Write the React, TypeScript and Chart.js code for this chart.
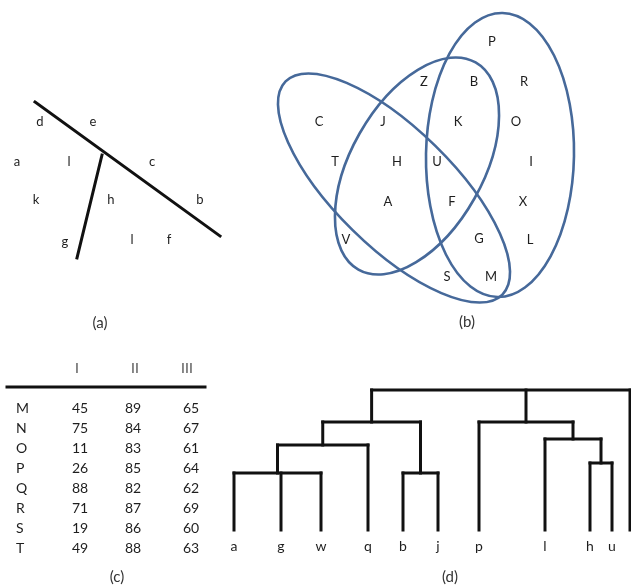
import React, { useEffect, useRef } from "react";
import { Chart, registerables } from "chart.js";

Chart.register(...registerables);

const W = 631;
const H = 587;

// ---------- Panel (a): two strokes and letters ----------
const strokeAX = [35, 220];
const strokeAY = [102, 236];
const strokeBX = [102, 77];
const strokeBY = [155, 258];
const panelALetters = ["d", "e", "a", "l", "c", "k", "h", "b", "g", "l", "f"];
const panelALetterX = [40, 93, 17, 69, 152, 36, 111, 200, 65, 132, 169];
const panelALetterY = [122, 122, 162, 162, 162, 200, 200, 200, 242, 240, 240];

// ---------- Panel (b): Venn ellipses and letters ----------
const ellipseCx = [394, 417, 500];
const ellipseCy = [188, 166, 155];
const ellipseRx = [152, 119, 74];
const ellipseRy = [59, 66, 142];
const ellipseAngleDeg = [44.5, -60.5, 1];
const vennLetters = ["P", "Z", "B", "R", "C", "J", "K", "O", "T", "H", "U", "I", "A", "F", "X", "V", "G", "L", "S", "M"];
const vennX = [492, 424, 474, 524, 319, 383, 458, 516, 335, 397, 437, 531, 388, 452, 523, 346, 479, 530, 447, 491];
const vennY = [42, 82, 82, 82, 122, 122, 122, 122, 162, 162, 162, 162, 202, 202, 202, 240, 239, 240, 277, 277];

// ---------- Panel (c): table ----------
const tableHeader = ["I", "II", "III"];
const tableRowLabels = ["M", "N", "O", "P", "Q", "R", "S", "T"];
const colI = [45, 75, 11, 26, 88, 71, 19, 49];
const colII = [89, 84, 83, 85, 82, 87, 86, 88];
const colIII = [65, 67, 61, 64, 62, 69, 60, 63];

// ---------- Panel (d): dendrogram ----------
const leafLabels = ["a", "g", "w", "q", "b", "j", "p", "l", "h", "u", "z"];
const leafX = [234, 281, 321, 368, 403, 438, 479, 545, 590, 612, 630];
const leafBaseY = 530;
const mergeChildren = [
  ["a", "g", "w"],
  ["n0", "q"],
  ["b", "j"],
  ["n1", "n2"],
  ["h", "u"],
  ["l", "n4"],
  ["p", "n5"],
  ["n3", "n6", "z"],
];
const mergeLevelY = [473, 445, 473, 422, 463, 439, 422, 390];

const captions = ["(a)", "(b)", "(c)", "(d)"];
const captionX = [100, 467, 117, 450];
const captionY = [323, 322, 577, 577];

const BLACK = "#111111";
const BLUE = "#46699a";
const TEXT = "#1e1e1e";

function seg(x1: number, y1: number, x2: number, y2: number, width = 3, color = BLACK) {
  return {
    data: [
      { x: x1, y: y1 },
      { x: x2, y: y2 },
    ],
    showLine: true,
    pointRadius: 0,
    borderColor: color,
    borderWidth: width,
    borderCapStyle: "square" as const,
    fill: false,
  };
}

function buildDendrogram() {
  const pos: Record<string, { x: number; y: number }> = {};
  leafLabels.forEach((l, i) => (pos[l] = { x: leafX[i], y: leafBaseY }));
  const sets: any[] = [];
  mergeChildren.forEach((children, i) => {
    const level = mergeLevelY[i];
    const xs = children.map((c) => pos[c].x);
    const minX = Math.min(...xs);
    const maxX = Math.max(...xs);
    sets.push(seg(minX, level, maxX, level));
    children.forEach((c) => sets.push(seg(pos[c].x, pos[c].y, pos[c].x, level)));
    pos["n" + i] = { x: (minX + maxX) / 2, y: level };
  });
  return sets;
}

const figurePlugin = {
  id: "figurePlugin",
  afterDatasetsDraw(chart: any) {
    const ctx: CanvasRenderingContext2D = chart.ctx;
    const xs = chart.scales.x;
    const ys = chart.scales.y;
    const px = (v: number) => xs.getPixelForValue(v);
    const py = (v: number) => ys.getPixelForValue(v);
    const sx = (v: number) => Math.abs(xs.getPixelForValue(v) - xs.getPixelForValue(0));
    const sy = (v: number) => Math.abs(ys.getPixelForValue(v) - ys.getPixelForValue(0));
    ctx.save();
    // ellipses
    ctx.strokeStyle = BLUE;
    ctx.lineWidth = 2.6;
    ellipseCx.forEach((cx, i) => {
      ctx.beginPath();
      ctx.ellipse(px(cx), py(ellipseCy[i]), sx(ellipseRx[i]), sy(ellipseRy[i]), (ellipseAngleDeg[i] * Math.PI) / 180, 0, Math.PI * 2);
      ctx.stroke();
    });
    ctx.textAlign = "center";
    ctx.textBaseline = "middle";
    ctx.fillStyle = TEXT;
    ctx.font = "13px Lato";
    panelALetters.forEach((t, i) => ctx.fillText(t, px(panelALetterX[i]), py(panelALetterY[i])));
    vennLetters.forEach((t, i) => ctx.fillText(t, px(vennX[i]), py(vennY[i])));
    // table
    ctx.font = "14px Lato";
    ctx.fillStyle = "#555";
    const headX = [77, 135, 187];
    tableHeader.forEach((t, i) => ctx.fillText(t, px(headX[i]), py(368)));
    ctx.fillStyle = TEXT;
    tableRowLabels.forEach((r, i) => {
      const y = py(408 + i * 20);
      ctx.textAlign = "left";
      ctx.fillText(r, px(16), y);
      ctx.textAlign = "center";
      ctx.fillText(String(colI[i]), px(80), y);
      ctx.fillText(String(colII[i]), px(133), y);
      ctx.fillText(String(colIII[i]), px(191), y);
    });
    // dendrogram leaf labels
    ctx.font = "14px Lato";
    leafLabels.forEach((t, i) => ctx.fillText(t, px(leafX[i] + (i === leafLabels.length - 1 ? 4 : 0)), py(546)));
    // captions
    ctx.font = "15px Lato";
    ctx.fillStyle = "#333";
    captions.forEach((t, i) => ctx.fillText(t, px(captionX[i]), py(captionY[i])));
    ctx.restore();
  },
};

export default function App() {
  const ref = useRef<HTMLCanvasElement>(null);
  useEffect(() => {
    const canvas = ref.current!;
    const datasets = [
      seg(strokeAX[0], strokeAY[0], strokeAX[1], strokeAY[1], 3),
      seg(strokeBX[0], strokeBY[0], strokeBX[1], strokeBY[1], 3),
      seg(7, 387, 205, 387, 3),
      ...buildDendrogram(),
    ];
    const chart = new Chart(canvas, {
      type: "scatter",
      data: { datasets },
      options: {
        animation: false,
        responsive: false,
        maintainAspectRatio: false,
        devicePixelRatio: 1,
        events: [],
        layout: { padding: 0 },
        plugins: { legend: { display: false }, tooltip: { enabled: false } },
        scales: {
          x: { type: "linear", min: 0, max: W, display: false },
          y: { type: "linear", min: 0, max: H, reverse: true, display: false },
        },
      },
      plugins: [figurePlugin],
    } as any);
    return () => chart.destroy();
  }, []);
  return (
    <canvas
      ref={ref}
      width={W}
      height={H}
      style={{ position: "fixed", left: 0, top: 0, width: W, height: H, background: "#fff" }}
    />
  );
}
